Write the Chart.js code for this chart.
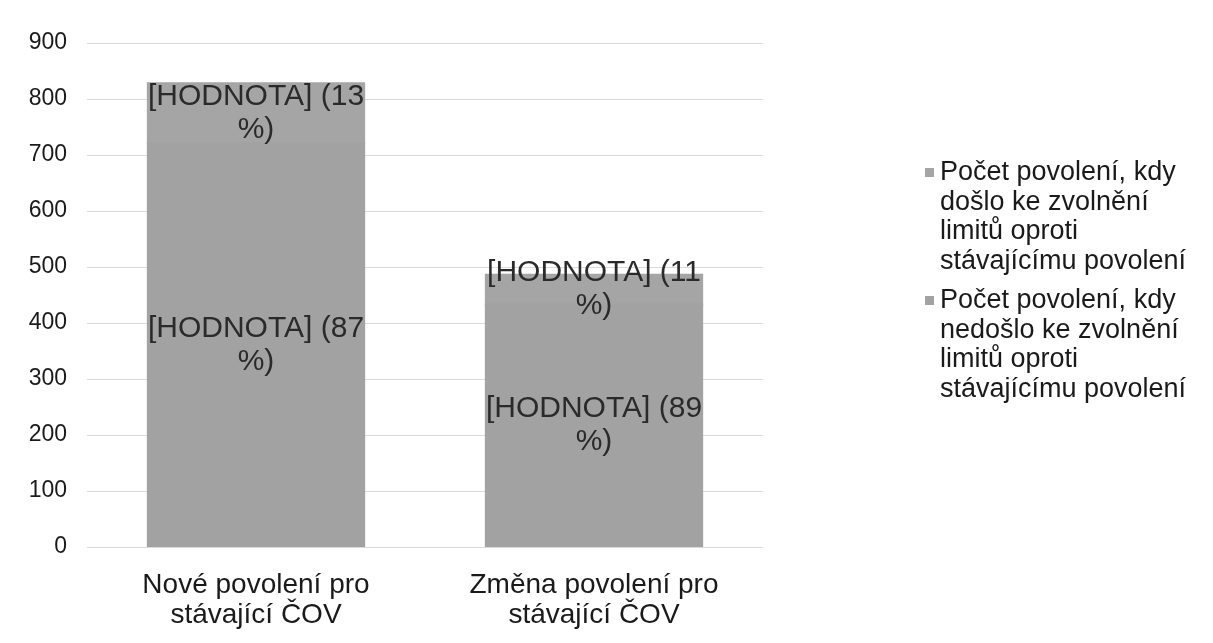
<!DOCTYPE html>
<html lang="cs">
<head>
<meta charset="utf-8">
<script src="https://cdn.jsdelivr.net/npm/chart.js@4/dist/chart.umd.min.js"></script>
<style>
  html, body { margin:0; padding:0; background:#fff; }
  .wrap { position:relative; width:1213px; height:643px; font-family:"Liberation Sans", Arial, sans-serif; }
  canvas { position:absolute; left:0; top:0; }
  .legend { position:absolute; left:925px; top:157px; color:#1a1a1a; font-size:27px; line-height:29.5px; }
  .legend .item { position:relative; padding-left:15px; margin-bottom:10px; }
  .legend .sw { position:absolute; left:0; top:11px; width:9px; height:9px; }
</style>
</head>
<body>
<div class="wrap">
  <canvas id="chart" width="1213" height="643"></canvas>
  <div class="legend" id="legend"></div>
</div>
<script>
/* ===== Data ===== */
const categories = [
  ['Nové povolení pro', 'stávající ČOV'],
  ['Změna povolení pro', 'stávající ČOV']
];
const seriesNames = [
  'Počet povolení, kdy nedošlo ke zvolnění limitů oproti stávajícímu povolení',
  'Počet povolení, kdy došlo ke zvolnění limitů oproti stávajícímu povolení'
];
const legendLines = [
  ['Počet povolení, kdy', 'nedošlo ke zvolnění', 'limitů oproti', 'stávajícímu povolení'],
  ['Počet povolení, kdy', 'došlo ke zvolnění', 'limitů oproti', 'stávajícímu povolení']
];
const notRelaxed = [720, 433];
const relaxed = [108, 53];
const notRelaxedPct = [87, 89];
const relaxedPct = [13, 11];
const yTicks = [0, 100, 200, 300, 400, 500, 600, 700, 800, 900];
const colors = ['#a2a2a2', '#a5a5a5'];

const FONT = '"Liberation Sans", Arial, sans-serif';

/* ===== Popisky hodnot ===== */
const valueLabels = {
  id: 'valueLabels',
  afterDatasetsDraw(chart) {
    const ctx = chart.ctx;
    ctx.save();
    ctx.font = '30px ' + FONT;
    ctx.fillStyle = '#2a2a2a';
    ctx.textAlign = 'center';
    ctx.textBaseline = 'middle';
    chart.data.datasets.forEach((ds, i) => {
      chart.getDatasetMeta(i).data.forEach((bar, j) => {
        const lines = [`[HODNOTA] (${ds.pct[j]}`, '%)'];
        const cy = (bar.y + bar.base) / 2;
        const lh = 33;
        lines.forEach((t, k) => {
          ctx.fillText(t, bar.x, cy + (k - (lines.length - 1) / 2) * lh);
        });
      });
    });
    ctx.restore();
  }
};

const chart = new Chart(document.getElementById('chart'), {
  type: 'bar',
  data: {
    labels: categories,
    datasets: [
      { label: seriesNames[0], data: notRelaxed, pct: notRelaxedPct, backgroundColor: colors[0] },
      { label: seriesNames[1], data: relaxed, pct: relaxedPct, backgroundColor: colors[1] }
    ]
  },
  options: {
    responsive: false,
    animation: false,
    layout: { padding: { top: 43, right: 450, bottom: 0, left: 0 } },
    datasets: { bar: { categoryPercentage: 0.64, barPercentage: 1, borderWidth: 0, inflateAmount: 1 } },
    plugins: { legend: { display: false }, tooltip: { enabled: false } },
    scales: {
      x: {
        stacked: true,
        grid: { display: false },
        border: { display: false },
        ticks: { color: '#1a1a1a', font: { family: FONT, size: 28, lineHeight: 1.07 }, padding: 15, maxRotation: 0 },
        afterFit: s => { s.height = 96; }
      },
      y: {
        stacked: true,
        min: 0, max: 900,
        afterBuildTicks: s => { s.ticks = yTicks.map(v => ({ value: v })); },
        grid: { color: '#dadada', lineWidth: 1, drawTicks: false },
        border: { display: false },
        ticks: { color: '#1a1a1a', font: { family: FONT, size: 23 }, padding: 20 },
        afterFit: s => { s.width = 87; }
      }
    }
  },
  plugins: [valueLabels]
});

/* ===== Legenda (poradi jako v Excelu: horni rada prvni) ===== */
const legend = document.getElementById('legend');
[1, 0].forEach(i => {
  const item = document.createElement('div');
  item.className = 'item';
  item.innerHTML = `<span class="sw" style="background:${colors[i]}"></span>` + legendLines[i].join('<br>');
  legend.appendChild(item);
});
</script>
</body>
</html>
